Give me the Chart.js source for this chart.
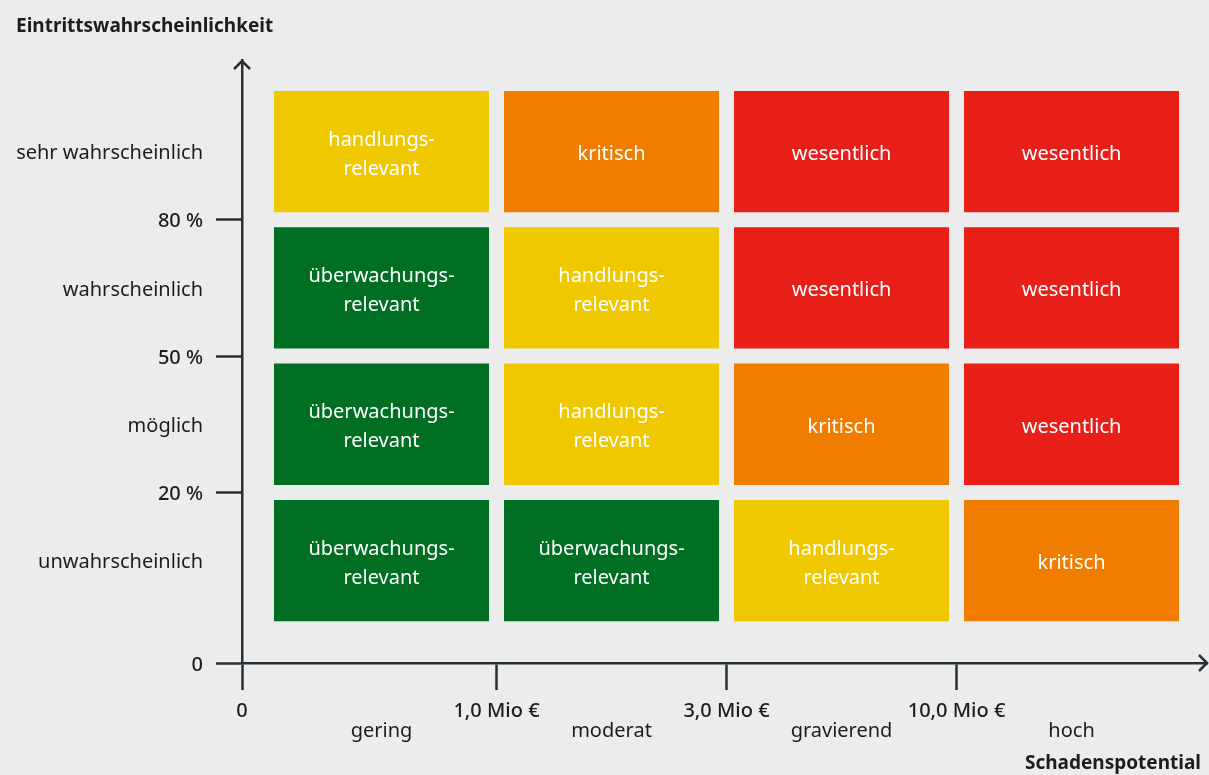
<!DOCTYPE html>
<html>
<head>
<meta charset="utf-8">
<script src="https://cdn.jsdelivr.net/npm/chart.js@4/dist/chart.umd.min.js"></script>
<style>
  html, body { margin: 0; padding: 0; background: #ececec; }
  canvas { display: block; }
</style>
</head>
<body>
<canvas id="c" width="1209" height="775"></canvas>
<script>
// ---------- data ----------
const yAxisTitle = 'Eintrittswahrscheinlichkeit';
const xAxisTitle = 'Schadenspotential';
const impactCategories = ['gering', 'moderat', 'gravierend', 'hoch'];
const likelihoodCategories = ['unwahrscheinlich', 'möglich', 'wahrscheinlich', 'sehr wahrscheinlich'];
const impactTickLabels = ['0', '1,0 Mio €', '3,0 Mio €', '10,0 Mio €'];
const likelihoodTickLabels = ['0', '20 %', '50 %', '80 %'];
// rows from bottom (unwahrscheinlich) to top (sehr wahrscheinlich), columns left to right
const ratingRows = [
  ['überwachungs-relevant', 'überwachungs-relevant', 'handlungs-relevant', 'kritisch'],
  ['überwachungs-relevant', 'handlungs-relevant', 'kritisch', 'wesentlich'],
  ['überwachungs-relevant', 'handlungs-relevant', 'wesentlich', 'wesentlich'],
  ['handlungs-relevant', 'kritisch', 'wesentlich', 'wesentlich']
];

// ---------- styles ----------
const ratingColors = {
  'überwachungs-relevant': '#006f24',
  'handlungs-relevant': '#f0c800',
  'kritisch': '#f07c00',
  'wesentlich': '#e81e18'
};
const FONT = "'Noto Sans', 'Open Sans', sans-serif";
const textColor = '#1d1d1b';
const axisColor = '#263036';
const axisWidth = 2.5;
const X_MIN = -0.1065, X_MAX = 4.089;
const Y_MIN = -0.2517, Y_MAX = 4.172;
const CELL_INSET_Y = 0.055;

// tick lists: origin, category centres and category boundaries
const xTicks = [{ v: X_MIN, label: impactTickLabels[0], kind: 'value' }];
impactCategories.forEach((c, i) => {
  xTicks.push({ v: i + 0.5, label: ['', c], kind: 'cat' });
  if (i + 1 < impactTickLabels.length) xTicks.push({ v: i + 1, label: impactTickLabels[i + 1], kind: 'value' });
});
const yTicks = [{ v: Y_MIN, label: likelihoodTickLabels[0], kind: 'value' }];
likelihoodCategories.forEach((c, i) => {
  yTicks.push({ v: i + 0.5, label: c, kind: 'cat' });
  if (i + 1 < likelihoodTickLabels.length) yTicks.push({ v: i + 1, label: likelihoodTickLabels[i + 1], kind: 'value' });
});

const datasets = likelihoodCategories.map((row, r) => ({
  label: row,
  data: impactCategories.map((c, i) => ({ x: i + 0.5, y: [r + CELL_INSET_Y, r + 1 - CELL_INSET_Y] })),
  ratings: ratingRows[r],
  backgroundColor: ratingRows[r].map(k => ratingColors[k]),
  borderWidth: 0,
  grouped: false,
  categoryPercentage: 215 / 230,
  barPercentage: 1,
  xAxisID: 'xb',
  yAxisID: 'y'
}));

const cellLabelPlugin = {
  id: 'cellLabels',
  afterDatasetsDraw(chart) {
    const ctx = chart.ctx;
    ctx.save();
    ctx.fillStyle = '#ffffff';
    ctx.font = `400 20px ${FONT}`;
    ctx.textAlign = 'center';
    ctx.textBaseline = 'alphabetic';
    chart.data.datasets.forEach((ds, di) => {
      const meta = chart.getDatasetMeta(di);
      meta.data.forEach((el, i) => {
        const text = ds.ratings[i];
        const lines = text.split(/(?<=-)/);
        const cx = el.x;
        const cy = (el.y + el.base) / 2 + 8.5;
        const lh = 29;
        lines.forEach((ln, j) => {
          ctx.fillText(ln, cx, cy + (j - (lines.length - 1) / 2) * lh);
        });
      });
    });
    ctx.restore();
  }
};

const axisDecorPlugin = {
  id: 'axisDecor',
  afterDraw(chart) {
    const ctx = chart.ctx;
    const x0 = chart.scales.x.getPixelForValue(X_MIN);
    const y0 = chart.scales.y.getPixelForValue(Y_MIN);
    const xEnd = chart.scales.x.getPixelForValue(X_MAX);
    const yEnd = chart.scales.y.getPixelForValue(Y_MAX);
    ctx.save();
    ctx.strokeStyle = axisColor;
    ctx.lineWidth = axisWidth;
    ctx.lineCap = 'butt';
    ctx.lineJoin = 'miter';
    ctx.beginPath();
    ctx.moveTo(x0 - 8, yEnd + 9);
    ctx.lineTo(x0, yEnd + 1);
    ctx.lineTo(x0 + 8, yEnd + 9);
    ctx.stroke();
    ctx.beginPath();
    ctx.moveTo(xEnd - 8, y0 - 8);
    ctx.lineTo(xEnd, y0);
    ctx.lineTo(xEnd - 8, y0 + 8);
    ctx.stroke();
    // titles
    ctx.fillStyle = textColor;
    ctx.font = `700 19px ${FONT}`;
    ctx.textBaseline = 'alphabetic';
    ctx.textAlign = 'left';
    ctx.fillText(yAxisTitle, 16, 32);
    ctx.textAlign = 'right';
    ctx.fillText(xAxisTitle, 1201, 769);
    ctx.restore();
  }
};

new Chart(document.getElementById('c'), {
  type: 'bar',
  data: { datasets },
  options: {
    responsive: false,
    animation: false,
    events: [],
    layout: { padding: { top: 60, right: 2, left: 0, bottom: 0 } },
    plugins: { legend: { display: false }, tooltip: { enabled: false }, title: { display: false } },
    scales: {
      xb: {
        type: 'linear', axis: 'x', position: 'bottom', display: false,
        offset: false, grid: { offset: false },
        min: X_MIN, max: X_MAX,
        ticks: { display: false },
        afterBuildTicks(s) { s.ticks = []; }
      },
      x: {
        type: 'linear', position: 'bottom',
        offset: false,
        min: X_MIN, max: X_MAX,
        afterBuildTicks(s) { s.ticks = xTicks.map(t => ({ value: t.v })); },
        afterFit(s) { s.height = 112; },
        border: { display: true, color: axisColor, width: axisWidth },
        grid: {
          offset: false,
          drawOnChartArea: false, drawTicks: true, tickLength: 27, tickWidth: axisWidth,
          tickColor: c => (xTicks[c.index] && xTicks[c.index].kind === 'cat') ? 'rgba(0,0,0,0)' : axisColor
        },
        ticks: {
          padding: 11, color: textColor, maxRotation: 0, autoSkip: false,
          font: c => ({ family: FONT, size: 20, weight: (xTicks[c.index] && xTicks[c.index].kind === 'value') ? 500 : 400, lineHeight: '20px' }),
          callback: (v, i) => xTicks[i] ? xTicks[i].label : ''
        }
      },
      y: {
        type: 'linear', position: 'left',
        offset: false,
        min: Y_MIN, max: Y_MAX,
        afterBuildTicks(s) { s.ticks = yTicks.map(t => ({ value: t.v })); },
        afterFit(s) { s.width = 242; },
        border: { display: true, color: axisColor, width: axisWidth },
        grid: {
          offset: false,
          drawOnChartArea: false, drawTicks: true, tickLength: 26, tickWidth: axisWidth,
          tickColor: c => (yTicks[c.index] && yTicks[c.index].kind === 'cat') ? 'rgba(0,0,0,0)' : axisColor
        },
        ticks: {
          padding: 13, color: textColor, autoSkip: false, labelOffset: 2,
          font: c => ({ family: FONT, size: 20, weight: (yTicks[c.index] && yTicks[c.index].kind === 'value') ? 500 : 400, lineHeight: '20px' }),
          callback: (v, i) => yTicks[i] ? yTicks[i].label : ''
        }
      }
    }
  },
  plugins: [cellLabelPlugin, axisDecorPlugin]
});
</script>
</body>
</html>
